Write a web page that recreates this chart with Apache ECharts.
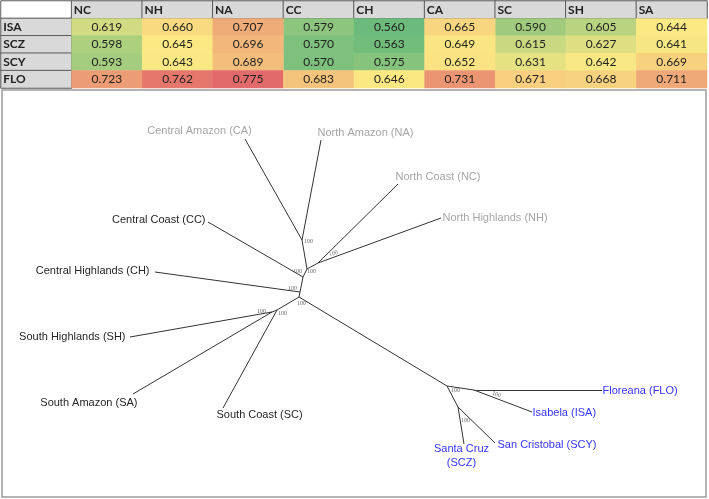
<!DOCTYPE html>
<html>
<head>
<meta charset="utf-8">
<script src="https://cdn.jsdelivr.net/npm/echarts@6/dist/echarts.min.js"></script>
<style>
html, body { margin: 0; padding: 0; background: #fff; }
#chart { width: 709px; height: 499px; }
</style>
</head>
<body>
<div id="chart"></div>
<script>
// ---- table data ----
const colNames = ['NC', 'NH', 'NA', 'CC', 'CH', 'CA', 'SC', 'SH', 'SA'];
const rowNames = ['ISA', 'SCZ', 'SCY', 'FLO'];
const valISA = [0.619, 0.660, 0.707, 0.579, 0.560, 0.665, 0.590, 0.605, 0.644];
const valSCZ = [0.598, 0.645, 0.696, 0.570, 0.563, 0.649, 0.615, 0.627, 0.641];
const valSCY = [0.593, 0.643, 0.689, 0.570, 0.575, 0.652, 0.631, 0.642, 0.669];
const valFLO = [0.723, 0.762, 0.775, 0.683, 0.646, 0.731, 0.671, 0.668, 0.711];

// ---- tree data (layout units) ----
const tipIds   = ['CA', 'NA', 'NC', 'NH', 'CC', 'CH', 'SH', 'SA', 'SC', 'FLO', 'ISA', 'SCY', 'SCZ'];
const tipNames = ['Central Amazon (CA)', 'North Amazon (NA)', 'North Coast (NC)', 'North Highlands (NH)',
                  'Central Coast (CC)', 'Central Highlands (CH)', 'South Highlands (SH)', 'South Amazon (SA)',
                  'South Coast (SC)', 'Floreana (FLO)', 'Isabela (ISA)', 'San Cristobal (SCY)', 'Santa Cruz\n(SCZ)'];
const tipX = [245, 321, 398, 441, 208, 155, 130, 133, 223, 602, 532, 495, 464];
const tipY = [49, 50, 94, 128, 132, 182, 247, 304, 318, 300, 322, 353, 354];

const innerIds = ['A', 'B', 'C', 'D', 'E1', 'E', 'G', 'G2', 'H', 'J', 'K'];
const innerX = [302, 318, 307, 303, 300, 299, 277, 272, 447, 474, 458];
const innerY = [150, 173, 179, 187, 202, 207, 220, 222, 296, 300, 317];
const support = [100, 100, 100, 100, 100, 100, 100, 100, 100, 100, 100];

const edges = [
  ['A', 'CA'], ['A', 'NA'], ['B', 'NC'], ['B', 'NH'], ['C', 'A'], ['C', 'B'],
  ['D', 'C'], ['D', 'CC'], ['E1', 'D'], ['E1', 'CH'], ['E', 'E1'], ['E', 'G'],
  ['G', 'SC'], ['G', 'G2'], ['G2', 'SA'], ['G2', 'SH'], ['E', 'H'],
  ['H', 'J'], ['J', 'FLO'], ['J', 'ISA'], ['H', 'K'], ['K', 'SCZ'], ['K', 'SCY']
];

// label placement / colours for tips (style only)
const grey = '#a6a6a6', dark = '#262626', blue = '#3535ff';
const tipLabel = {
  CA:  { pos: [-45, -8], align: 'center', color: grey },
  NA:  { pos: [-3, -7],  align: 'left',   color: grey },
  NC:  { pos: [-2, -7],  align: 'left',   color: grey },
  NH:  { pos: [2, 0],    align: 'left',   color: grey },
  CC:  { pos: [-2, -2],  align: 'right',  color: dark },
  CH:  { pos: [-5, -1],  align: 'right',  color: dark },
  SH:  { pos: [-4, 0],   align: 'right',  color: dark },
  SA:  { pos: [5, 9],    align: 'right',  color: dark },
  SC:  { pos: [-6, 7],   align: 'left',   color: dark },
  FLO: { pos: [1, 1],    align: 'left',   color: blue },
  ISA: { pos: [1, 1],    align: 'left',   color: blue },
  SCY: { pos: [3, 2],    align: 'left',   color: blue },
  SCZ: { pos: [-2, 12],  align: 'center', color: blue }
};
const supLabel = {
  A: { pos: [7, 2] }, B: { pos: [16, -9], rotate: 20 }, C: { pos: [5, 3] },
  D: { pos: [-5, -5] }, E1: { pos: [-7, -3] }, E: { pos: [3, 7] },
  G: { pos: [6, 4] }, G2: { pos: [-10, 0] }, H: { pos: [9, 5] },
  J: { pos: [23, 5], rotate: -20 }, K: { pos: [8, 14] }
};

// ---- build table series ----
const allRows = [valISA, valSCZ, valSCY, valFLO];
const flat = allRows.flat().slice().sort((a, b) => a - b);
const mid = (flat[flat.length / 2 - 1] + flat[flat.length / 2]) / 2;
const lowData = [], highData = [];
allRows.forEach((row, r) => {
  row.forEach((v, c) => {
    (v <= mid ? lowData : highData).push([c + 1, r + 1, v]);
  });
});
const headData = [{ value: [0, 0, 0], name: '', itemStyle: { color: '#fff' } }];
colNames.forEach((n, c) => headData.push({ value: [c + 1, 0, 0], name: n }));
rowNames.forEach((n, r) => headData.push({ value: [0, r + 1, 0], name: n }));

const cellLabel = {
  show: true, color: '#222', fontSize: 12, fontFamily: 'Lato',
  formatter: p => p.value[2].toFixed(3)
};

// ---- build tree graph ----
const nodes = [];
tipIds.forEach((id, i) => {
  const s = tipLabel[id];
  nodes.push({
    id: id, value: [tipX[i], tipY[i]],
    label: {
      show: true, formatter: tipNames[i], position: s.pos, align: s.align,
      verticalAlign: 'middle', color: s.color, fontSize: 11, lineHeight: 14,
      fontFamily: 'Liberation Sans'
    }
  });
});
innerIds.forEach((id, i) => {
  const s = supLabel[id];
  nodes.push({
    id: id, value: [innerX[i], innerY[i]],
    label: {
      show: true, formatter: String(support[i]), position: s.pos, align: 'center',
      verticalAlign: 'middle', rotate: s.rotate || 0, color: '#666', fontSize: 6,
      fontFamily: 'Liberation Serif'
    }
  });
});
const links = edges.map(e => ({ source: e[0], target: e[1] }));

const chart = echarts.init(document.getElementById('chart'));
chart.setOption({
  animation: false,
  backgroundColor: '#fff',
  grid: [
    { left: 1, top: 1, width: 706, height: 87 },
    { left: 2, top: 90, width: 704, height: 407, show: true, borderColor: '#9c9c9c', borderWidth: 1.5 }
  ],
  xAxis: [
    { gridIndex: 0, type: 'category', data: [''].concat(colNames), show: false },
    { gridIndex: 1, type: 'value', min: 2, max: 706, show: false }
  ],
  yAxis: [
    { gridIndex: 0, type: 'category', data: [''].concat(rowNames), inverse: true, show: false },
    { gridIndex: 1, type: 'value', min: 0, max: 407, inverse: true, show: false }
  ],
  visualMap: [
    { show: false, seriesIndex: 1, min: flat[0], max: mid, inRange: { color: ['#6dbb7c', '#fce983'] } },
    { show: false, seriesIndex: 2, min: mid, max: flat[flat.length - 1], inRange: { color: ['#fce983', '#e36a6b'] } }
  ],
  series: [
    {
      type: 'heatmap', xAxisIndex: 0, yAxisIndex: 0, data: headData,
      itemStyle: { color: '#d9d9d9', borderColor: '#5a5a5a', borderWidth: 1 },
      label: {
        show: true, position: 'insideLeft', distance: 3, color: '#222', fontSize: 12,
        fontWeight: 'bold', fontFamily: 'Lato', formatter: p => p.name
      },
      emphasis: { disabled: true }
    },
    { type: 'heatmap', xAxisIndex: 0, yAxisIndex: 0, data: lowData, label: cellLabel, emphasis: { disabled: true } },
    { type: 'heatmap', xAxisIndex: 0, yAxisIndex: 0, data: highData, label: cellLabel, emphasis: { disabled: true } },
    {
      type: 'graph', coordinateSystem: 'cartesian2d', xAxisIndex: 1, yAxisIndex: 1,
      symbolSize: 1, itemStyle: { color: 'transparent' },
      lineStyle: { color: '#333', width: 1, opacity: 1 },
      data: nodes, links: links,
      emphasis: { disabled: true }
    }
  ]
});
</script>
</body>
</html>
